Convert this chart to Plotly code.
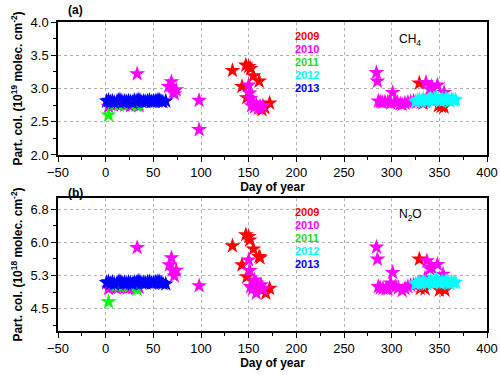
"""Partial columns of CH4 and N2O versus day of year, 2009-2013."""
import plotly.graph_objects as go
from plotly.subplots import make_subplots

YEARS = ["2009", "2010", "2011", "2012", "2013"]
COLORS = ["#FF0000", "#FF00FF", "#00FF00", "#00FFFF", "#0000FF"]

# ---- panel (a): CH4, 10^19 molec cm^-2 ----
ch4_2009_day = [133, 143, 147, 148, 150, 152, 155, 161, 163, 164, 167, 172, 329, 333, 349, 352, 355]
ch4_2009_val = [3.27, 3.03, 3.35, 2.86, 3.33, 3.30, 3.19, 3.11, 2.70, 2.68, 2.71, 2.78, 3.08, 2.78, 2.74, 2.73, 2.72]

ch4_2010_day = [3, 5, 8, 11, 14, 17, 20, 23, 26, 29, 32, 35, 33, 66, 69, 71, 72, 74, 98, 98,
                150, 151, 152, 153, 155, 156, 158, 160, 162, 165,
                284, 285, 286, 288, 290, 293, 296, 299, 301, 303, 306, 309, 311, 314, 317, 320,
                323, 327, 331, 335, 336, 340, 342, 348, 355]
ch4_2010_val = [2.73, 2.76, 2.75, 2.77, 2.78, 2.76, 2.75, 2.77, 2.74, 2.76, 2.75, 2.74, 3.22, 3.03,
                3.10, 2.95, 2.92, 2.98, 2.82, 2.38,
                3.05, 2.93, 2.85, 2.74, 2.78, 2.72, 2.75, 2.70, 2.73, 2.74,
                3.24, 3.11, 2.81, 2.80, 2.79, 2.80, 2.80, 2.78, 2.94, 2.80, 2.79, 2.77, 2.76, 2.78,
                2.79, 2.80, 2.81, 2.80, 2.79, 2.80, 3.09, 2.99, 3.03, 3.05, 2.94]

ch4_2011_day = [3, 9, 11, 14, 24, 25, 27, 33, 35]
ch4_2011_val = [2.60, 2.77, 2.78, 2.75, 2.80, 2.77, 2.78, 2.75, 2.76]

ch4_2012_day = [325, 327, 329, 331, 333, 335, 337, 339, 341, 343, 345, 347, 349, 351, 353, 355,
                357, 359, 361, 363, 365, 367]
ch4_2012_val = [2.80, 2.82, 2.83, 2.81, 2.84, 2.82, 2.80, 2.83, 2.85, 2.82, 2.84, 2.86, 2.83, 2.81,
                2.84, 2.82, 2.85, 2.83, 2.81, 2.84, 2.82, 2.83]

ch4_2013_day = [1, 3, 5, 7, 9, 12, 14, 16, 18, 20, 22, 24, 26, 28, 30, 32, 34, 36, 38, 40, 42, 44,
                46, 48, 50, 52, 54, 56, 58, 60, 63]
ch4_2013_val = [2.81, 2.82, 2.80, 2.81, 2.79, 2.81, 2.83, 2.82, 2.80, 2.81, 2.80, 2.81, 2.80, 2.79,
                2.82, 2.81, 2.83, 2.82, 2.80, 2.81, 2.80, 2.81, 2.82, 2.80, 2.81, 2.81, 2.82, 2.83,
                2.81, 2.80, 2.81]

# ---- panel (b): N2O, 10^18 molec cm^-2 ----
n2o_2009_day = [133, 143, 147, 148, 150, 151, 155, 161, 162, 164, 168, 172, 329, 330, 335, 350, 356]
n2o_2009_val = [5.92, 5.49, 6.17, 5.22, 6.13, 6.05, 5.85, 5.68, 5.65, 4.92, 4.85, 4.96, 5.62, 4.96,
                4.95, 4.92, 4.92]

n2o_2010_day = [3, 5, 8, 11, 14, 17, 20, 23, 26, 29, 32, 35, 33, 67, 69, 70, 72, 74, 98,
                150, 151, 152, 154, 156, 158, 158, 160, 163, 165,
                284, 285, 286, 288, 291, 294, 296, 299, 301, 304, 307, 311, 314, 317, 320, 323,
                335, 337, 340, 342, 348, 354]
n2o_2010_val = [4.96, 4.98, 5.00, 4.97, 4.99, 5.00, 4.98, 4.97, 5.00, 4.98, 4.96, 4.98, 5.88, 5.49,
                5.65, 5.37, 5.24, 5.37, 5.02,
                5.60, 5.36, 5.00, 4.95, 5.15, 5.08, 4.85, 5.00, 5.04, 4.95,
                5.89, 5.62, 5.00, 4.97, 4.96, 4.95, 4.95, 5.08, 5.32, 5.00, 4.97, 4.91, 4.96, 5.00,
                5.03, 5.04, 5.20, 5.58, 5.40, 5.43, 5.50, 5.28]

n2o_2011_day = [3, 9, 11, 14, 24, 25, 27, 33, 35]
n2o_2011_val = [4.66, 5.05, 5.03, 5.02, 5.05, 5.02, 5.04, 4.94, 5.12]

n2o_2012_day = ch4_2012_day
n2o_2012_val = [5.06, 5.08, 5.10, 5.07, 5.12, 5.09, 5.06, 5.10, 5.14, 5.09, 5.12, 5.16, 5.10, 5.07,
                5.11, 5.09, 5.13, 5.10, 5.07, 5.11, 5.09, 5.10]

n2o_2013_day = ch4_2013_day
n2o_2013_val = [5.09, 5.11, 5.07, 5.10, 5.06, 5.09, 5.12, 5.11, 5.08, 5.09, 5.07, 5.10, 5.08, 5.06,
                5.10, 5.09, 5.12, 5.11, 5.08, 5.09, 5.08, 5.10, 5.11, 5.08, 5.09, 5.10, 5.11, 5.12,
                5.09, 5.07, 5.06]

x_ticks = [-50, 0, 50, 100, 150, 200, 250, 300, 350, 400]
ch4_ticks = [2.0, 2.5, 3.0, 3.5, 4.0]
ch4_ticktext = ["2.0", "2.5", "3.0", "3.5", "4.0"]
n2o_ticks = [4.5, 5.25, 6.0, 6.75]
n2o_ticktext = ["4.5", "5.3", "6.0", "6.8"]

panels = [
    (1, [(ch4_2009_day, ch4_2009_val), (ch4_2010_day, ch4_2010_val), (ch4_2011_day, ch4_2011_val),
         (ch4_2012_day, ch4_2012_val), (ch4_2013_day, ch4_2013_val)]),
    (2, [(n2o_2009_day, n2o_2009_val), (n2o_2010_day, n2o_2010_val), (n2o_2011_day, n2o_2011_val),
         (n2o_2012_day, n2o_2012_val), (n2o_2013_day, n2o_2013_val)]),
]

fig = make_subplots(rows=2, cols=1, vertical_spacing=0.1392)

for row, series in panels:
    for year, color, (days, vals) in zip(YEARS, COLORS, series):
        fig.add_trace(
            go.Scatter(x=days, y=vals, mode="markers", name=year, showlegend=False,
                       marker=dict(symbol="star", size=12, color=color, line=dict(width=0))),
            row=row, col=1,
        )

axis_common = dict(
    showline=True, linecolor="black", linewidth=1.5, mirror=True, automargin=False,
    ticks="outside", ticklen=5, tickwidth=1.2, tickcolor="black",
    showgrid=True, gridcolor="#b0b0b0", griddash="dot", gridwidth=1,
    zeroline=False, tickfont=dict(family="Arial", size=13, color="black"),
)
title_font = dict(family="Arial", size=12, color="black")

for row in (1, 2):
    fig.update_xaxes(range=[-50, 400], tickvals=x_ticks, row=row, col=1,
                     minor=dict(ticks="outside", ticklen=3, tickcolor="black", showgrid=False,
                                tickvals=[-25, 25, 75, 125, 175, 225, 275, 325, 375]),
                     title=dict(text="<b>Day of year</b>", standoff=0, font=title_font),
                     **axis_common)

fig.update_yaxes(range=[2.0, 4.0], tickvals=ch4_ticks, ticktext=ch4_ticktext, row=1, col=1,
                 minor=dict(ticks="outside", ticklen=3, tickcolor="black", showgrid=False,
                            tickvals=[2.25, 2.75, 3.25, 3.75]),
                 title=dict(text="<b>Part. col. (10<sup>19</sup> molec. cm<sup>-2</sup>)</b>",
                            standoff=5, font=title_font),
                 **axis_common)
fig.update_yaxes(range=[4.0, 7.0], tickvals=n2o_ticks, ticktext=n2o_ticktext, row=2, col=1,
                 minor=dict(ticks="outside", ticklen=3, tickcolor="black", showgrid=False,
                            tickvals=[4.125, 4.875, 5.625, 6.375]),
                 title=dict(text="<b>Part. col. (10<sup>18</sup> molec. cm<sup>-2</sup>)</b>",
                            standoff=5, font=title_font),
                 **axis_common)

# year labels acting as legend, plus gas names and panel letters
label_y = {1: [3.79, 3.59, 3.40, 3.20, 3.01], 2: [6.68, 6.39, 6.10, 5.80, 5.51]}
for row in (1, 2):
    xr, yr = ("x", "y") if row == 1 else ("x2", "y2")
    for year, color, yv in zip(YEARS, COLORS, label_y[row]):
        fig.add_annotation(x=196, y=yv, xref=xr, yref=yr, text=f"<b>{year}</b>", showarrow=False,
                           xanchor="left", yanchor="middle",
                           font=dict(family="Arial", size=11,
                                     color="#22DD22" if year == "2011" else color))
fig.add_annotation(x=306, y=3.73, xref="x", yref="y", text="CH<sub>4</sub>", showarrow=False,
                   xanchor="left", font=dict(family="Arial", size=12, color="black"))
fig.add_annotation(x=306, y=6.62, xref="x2", yref="y2", text="N<sub>2</sub>O", showarrow=False,
                   xanchor="left", font=dict(family="Arial", size=12, color="black"))
fig.add_annotation(x=0.04, y=1.039, xref="paper", yref="paper", text="<b>(a)</b>", showarrow=False,
                   xanchor="center", yanchor="middle",
                   font=dict(family="Arial", size=12, color="black"))
fig.add_annotation(x=0.04, y=0.447, xref="paper", yref="paper", text="<b>(b)</b>", showarrow=False,
                   xanchor="center", yanchor="middle",
                   font=dict(family="Arial", size=12, color="black"))

fig.update_layout(
    width=500, height=375,
    margin=dict(l=58, r=13, t=22, b=44),
    paper_bgcolor="white", plot_bgcolor="white",
    font=dict(family="Arial", size=12, color="black"),
)

# drop the browser's default body margin so the figure sits at the page corner
fig.write_html("out.html", config={"displayModeBar": False},
               post_script="document.body.style.margin='0';")
